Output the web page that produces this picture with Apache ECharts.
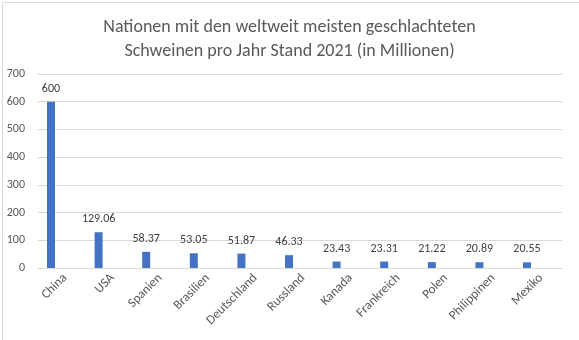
<!DOCTYPE html>
<html>
<head>
<meta charset="utf-8">
<script src="https://cdn.jsdelivr.net/npm/echarts@6/dist/echarts.min.js"></script>
<style>
html,body{margin:0;padding:0;background:#fff;}
#c{width:579px;height:340px;}
</style>
</head>
<body>
<div id="c"></div>
<script>
const titleLines = ["Nationen mit den weltweit meisten geschlachteten", "Schweinen pro Jahr Stand 2021 (in Millionen)"];
const categories = ["China", "USA", "Spanien", "Brasilien", "Deutschland", "Russland", "Kanada", "Frankreich", "Polen", "Philippinen", "Mexiko"];
const values = [600, 129.06, 58.37, 53.05, 51.87, 46.33, 23.43, 23.31, 21.22, 20.89, 20.55];
const yMin = 0, yMax = 700, yStep = 100;

const FONT = "Carlito, Lato, 'Liberation Sans', sans-serif";
const idx = categories.map((c, i) => i);

const chart = echarts.init(document.getElementById('c'), null, {renderer: 'canvas'});
chart.setOption({
  animation: false,
  backgroundColor: '#fff',
  title: {
    text: titleLines.join('\n'),
    left: 'center',
    top: 10,
    textStyle: {fontFamily: FONT, fontSize: 18, fontWeight: 'normal', color: '#595959', lineHeight: 24}
  },
  graphic: [{
    type: 'rect', left: 0, top: 0,
    shape: {x: 0.5, y: 0.5, width: 577, height: 338},
    style: {fill: 'none', stroke: '#d9d9d9', lineWidth: 1},
    silent: true, z: -1
  }],
  grid: {left: 38, right: 17, top: 74, bottom: 72, containLabel: false},
  xAxis: [{
    type: 'value', min: -0.273, max: 10.735,
    axisLine: {show: true, lineStyle: {color: '#d9d9d9'}},
    axisTick: {show: false},
    splitLine: {show: false},
    axisLabel: {show: false}
  }, {
    type: 'value', min: -0.567, max: 10.441, position: 'bottom',
    axisLine: {show: false},
    axisTick: {show: false},
    splitLine: {show: false},
    axisLabel: {
      customValues: idx,
      formatter: v => categories[Math.round(v)],
      rotate: 45, margin: 8,
      fontFamily: FONT, fontSize: 13, color: '#595959'
    }
  }],
  yAxis: {
    type: 'value', min: yMin, max: yMax, interval: yStep,
    axisLine: {show: false}, axisTick: {show: false},
    splitLine: {lineStyle: {color: '#d9d9d9'}},
    axisLabel: {fontFamily: FONT, fontSize: 12, color: '#595959', margin: 13}
  },
  series: [{
    type: 'bar', xAxisIndex: 0,
    data: values.map((v, i) => [i, v]),
    barWidth: 8,
    itemStyle: {color: '#4472c4'},
    label: {
      show: true, position: 'top', distance: 7,
      formatter: p => String(p.value[1]),
      fontFamily: FONT, fontSize: 12, color: '#404040'
    }
  }]
});
</script>
</body>
</html>
